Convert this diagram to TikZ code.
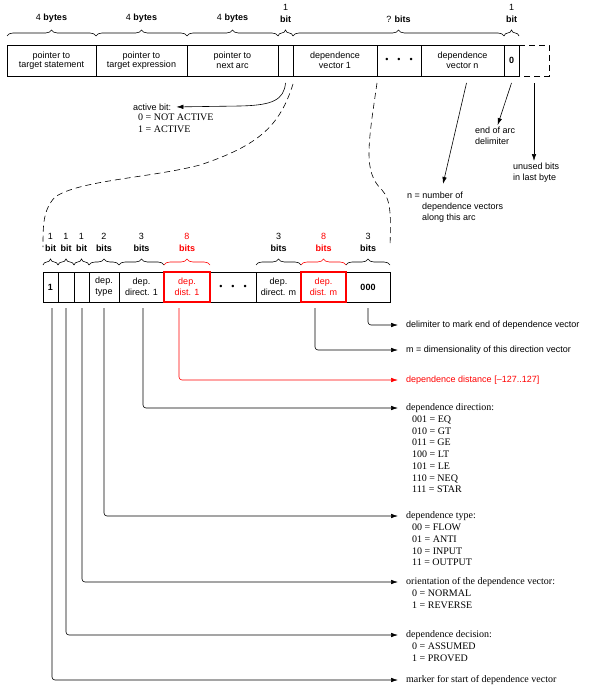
\documentclass[tikz,border=0pt]{standalone}
\usepackage{fontspec}
\setmainfont{Liberation Serif}
\setsansfont{Liberation Sans}
\usetikzlibrary{positioning, decorations.pathreplacing, arrows.meta}

\newcommand{\dotrow}{\textbullet\hspace{9pt}\textbullet\hspace{9pt}\textbullet}

\begin{document}
\begin{tikzpicture}[x=1pt, y=-1pt,
        cell/.style={draw, line width=0.8pt, inner sep=0pt, outer sep=0pt, align=center,
            font=\sffamily\fontsize{9}{9.5}\selectfont, minimum height=31pt},
        lowcell/.style={cell, minimum height=30pt, font=\sffamily\fontsize{9}{11}\selectfont},
        redcell/.style={lowcell, draw=red, text=red, line width=2pt},
        brc/.style={decorate, decoration={brace, amplitude=6pt}, line width=0.6pt},
        blbl/.style={above=13pt, inner sep=0pt, align=center, font=\sffamily\fontsize{9}{12}\selectfont},
        arr/.style={-{Latex[length=7pt, width=4.5pt]}, line width=0.6pt, rounded corners=3pt},
        dsc/.style={anchor=west, inner sep=0pt, font=\sffamily\fontsize{9}{11}\selectfont},
        dscs/.style={anchor=west, inner sep=0pt, font=\fontsize{10}{11.7}\selectfont},
        lst/.style={anchor=north west, inner sep=0pt, align=left, font=\fontsize{10}{11.7}\selectfont},
        dsh/.style={dash pattern=on 6pt off 4pt, line width=0.6pt}
    ]
    \useasboundingbox (0,0) rectangle (609,693);

    % arc record
    \node[cell, minimum width=89pt] (tgt) at (51.5,60.5) {pointer to\\target statement};
    \node[cell, minimum width=91pt, right=0pt of tgt] (expr) {pointer to\\target expression};
    \node[cell, minimum width=91pt, right=0pt of expr] (nxt) {pointer to\\next arc};
    \node[cell, minimum width=15pt, right=0pt of nxt] (act) {};
    \node[cell, minimum width=84pt, right=0pt of act] (vec1) {dependence\\vector 1};
    \node[cell, minimum width=44pt, right=0pt of vec1] (dots1) {\dotrow};
    \node[cell, minimum width=83pt, right=0pt of dots1] (vecn) {dependence\\vector n};
    \node[cell, minimum width=15pt, right=0pt of vecn, font=\sffamily\bfseries\fontsize{9}{9.5}\selectfont] (zero) {0};
    \node[cell, draw=none, minimum width=30pt, right=0pt of zero] (unused) {};
    \draw[dsh] (unused.north west) -- (unused.north east) -- (unused.south east) -- (unused.south west);

    \draw[brc] ([yshift=9pt]tgt.north west) -- node[blbl] (btgt) {4 \textbf{bytes}} ([yshift=9pt]tgt.north east);
    \draw[brc] ([yshift=9pt]expr.north west) -- node[blbl] (bexpr) {4 \textbf{bytes}} ([yshift=9pt]expr.north east);
    \draw[brc] ([yshift=9pt]nxt.north west) -- node[blbl] (bnxt) {4 \textbf{bytes}} ([yshift=9pt]nxt.north east);
    \draw[brc] ([yshift=9pt]act.north west) -- node[blbl] (bact) {1\\\textbf{bit}} ([yshift=9pt]act.north east);
    \draw[brc] ([yshift=9pt]vec1.north west) -- node[blbl] (bvec) {? \textbf{bits}} ([yshift=9pt]vecn.north east);
    \draw[brc] ([yshift=9pt]zero.north west) -- node[blbl] (bzero) {1\\\textbf{bit}} ([yshift=9pt]zero.north east);

    % notes on the arc record
    \node[dsc] (abit) at (133,107) {active bit:};
    \node[lst] (ablst) at ([xshift=5pt, yshift=-3pt]abit.south west) {0 = NOT ACTIVE\\1 = ACTIVE};
    \draw[arr, shorten >=5pt] ([yshift=-7pt]act.south) .. controls (284,100) and (272,105) .. (240,106) -- (abit.east);

    \node[dsc, anchor=north west, align=left] (eoatxt) at (475,127) {end of arc\\delimiter};
    \draw[arr, shorten >=2pt] ([yshift=-7pt]zero.south) -- ([xshift=22pt]eoatxt.north west);

    \node[dsc, anchor=north west, align=left] (ubtxt) at (513,163) {unused bits\\in last byte};
    \draw[arr, shorten >=2pt] ([yshift=-7pt]unused.south) -- (unused.south |- ubtxt.north);

    \node[dsc, anchor=north west, align=left] (ntxt) at (407,192) {n = number of\\\hspace*{15pt}dependence vectors\\\hspace*{15pt}along this arc};
    \coordinate (ntip) at (443,184);
    \draw[arr] ([xshift=4pt, yshift=-7pt]vecn.south) -- (ntip);

    % dependence vector
    \node[lowcell, minimum width=15pt, font=\sffamily\bfseries\fontsize{9}{11}\selectfont] (mk) at (50.5,287) {1};
    \node[lowcell, minimum width=16pt, right=0pt of mk] (dec) {};
    \node[lowcell, minimum width=15pt, right=0pt of dec] (ori) {};
    \node[lowcell, minimum width=30pt, right=0pt of ori] (typ) {dep.\\type};
    \node[lowcell, minimum width=45pt, right=0pt of typ] (dir1) {dep.\\direct. 1};
    \node[redcell, minimum width=46pt, right=0pt of dir1] (dist1) {dep.\\dist. 1};
    \node[lowcell, minimum width=46pt, right=0pt of dist1] (dots2) {\dotrow};
    \node[lowcell, minimum width=45pt, right=0pt of dots2] (dirm) {dep.\\direct. m};
    \node[redcell, minimum width=45pt, right=0pt of dirm] (distm) {dep.\\dist. m};
    \node[lowcell, minimum width=44pt, right=0pt of distm, font=\sffamily\bfseries\fontsize{9}{11}\selectfont] (delim) {000};
    \draw[red, line width=2pt] (dist1.north west) rectangle (dist1.south east);
    \draw[red, line width=2pt] (distm.north west) rectangle (distm.south east);

    \foreach \c/\n/\w in {mk/1/bit, dec/1/bit, ori/1/bit, typ/2/bits, dir1/3/bits, dirm/3/bits, delim/3/bits}
        \draw[brc] ([yshift=7pt]\c.north west) -- node[blbl] (b\c) {\n\\\textbf{\w}} ([yshift=7pt]\c.north east);
    \foreach \c in {dist1, distm}
        \draw[brc, red] ([yshift=7pt]\c.north west) -- node[blbl, text=red] (b\c) {8\\\textbf{bits}} ([yshift=7pt]\c.north east);

    % zoom from the arc record
    \coordinate (lftend) at ([yshift=25pt]mk.north west);
    \coordinate (rgtend) at ([yshift=25pt]delim.north east);
    \draw[dsh] ([yshift=-8pt]vec1.south west) .. controls (280,125) and (260,145) .. (200,165)
        .. controls (150,178) and (80,180) .. (55,197) .. controls (43,210) and (43,225) .. (lftend);
    \draw[dsh] ([yshift=-7pt]dots1.south west) .. controls (368,145) and (363,172) .. (382,190)
        .. controls (391,200) and (391,215) .. (rgtend);

    % field descriptions
    \node[dsc] (delimtxt) at (406,325) {delimiter to mark end of dependence vector};
    \node[dsc] (mtxt) at (406,350) {m = dimensionality of this direction vector};
    \node[dsc, text=red] (disttxt) at (406,380) {dependence distance [--127..127]};
    \node[dscs] (dirtxt) at (406,408) {dependence direction:};
    \node[lst] (dirlst) at ([xshift=6pt, yshift=-3pt]dirtxt.south west) {001 = EQ\\010 = GT\\011 = GE\\100 = LT\\101 = LE\\110 = NEQ\\111 = STAR};
    \node[dscs] (typtxt) at (406,516) {dependence type:};
    \node[lst] (typlst) at ([xshift=6pt, yshift=-3pt]typtxt.south west) {00 = FLOW\\01 = ANTI\\10 = INPUT\\11 = OUTPUT};
    \node[dscs] (oritxt) at (406,582) {orientation of the dependence vector:};
    \node[lst] (orilst) at ([xshift=6pt, yshift=-3pt]oritxt.south west) {0 = NORMAL\\1 = REVERSE};
    \node[dscs] (dectxt) at (406,635) {dependence decision:};
    \node[lst] (declst) at ([xshift=6pt, yshift=-3pt]dectxt.south west) {0 = ASSUMED\\1 = PROVED};
    \node[dscs] (mktxt) at (406,680) {marker for start of dependence vector};

    \draw[arr, shorten >=8pt] ([yshift=-6pt]delim.south) |- (delimtxt.west);
    \draw[arr, shorten >=8pt] ([xshift=-8.5pt, yshift=-6pt]distm.south) |- (mtxt.west);
    \draw[arr, red, shorten >=8pt] ([xshift=-8pt, yshift=-6pt]dist1.south) |- (disttxt.west);
    \draw[arr, shorten >=8pt] ([xshift=1.5pt, yshift=-6pt]dir1.south) |- (dirtxt.west);
    \draw[arr, shorten >=8pt] ([yshift=-6pt]typ.south) |- (typtxt.west);
    \draw[arr, shorten >=8pt] ([xshift=0.5pt, yshift=-6pt]ori.south) |- (oritxt.west);
    \draw[arr, shorten >=8pt] ([yshift=-6pt]dec.south) |- (dectxt.west);
    \draw[arr, shorten >=8pt] ([xshift=1.5pt, yshift=-6pt]mk.south) |- (mktxt.west);
\end{tikzpicture}
\end{document}
